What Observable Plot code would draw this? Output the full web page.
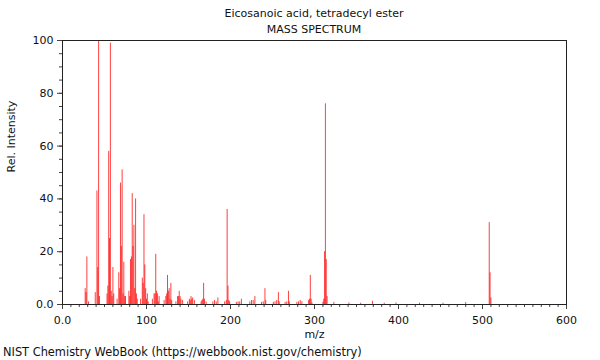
<!DOCTYPE html>
<html>
<head>
<meta charset="utf-8">
<script src="https://cdn.jsdelivr.net/npm/d3@7"></script>
<script src="https://cdn.jsdelivr.net/npm/@observablehq/plot@0.6"></script>
<style>
  body { margin: 0; background: #fff; font-family: "DejaVu Sans", sans-serif; }
  #wrap { position: relative; width: 600px; height: 360px; }
  .t { position: absolute; font-size: 11px; color: #111; white-space: nowrap; }
  #title { left: 314px; top: 7px; transform: translateX(-50%); }
  #sub { left: 314px; top: 23px; transform: translateX(-50%); }
  #cap { left: 3px; top: 345px; font-size: 11.4px; }
</style>
</head>
<body>
<div id="wrap">
  <div id="chart"></div>
  <div class="t" id="title">Eicosanoic acid, tetradecyl ester</div>
  <div class="t" id="sub">MASS SPECTRUM</div>
  <div class="t" id="cap">NIST Chemistry WebBook (https://webbook.nist.gov/chemistry)</div>
</div>
<script>
const mz = [27,28,29,31,39,41,42,43,44,53,54,55,56,57,58,59,60,61,65,67,68,69,70,71,72,73,74,75,79,80,81,82,83,84,85,86,87,88,89,93,95,96,97,98,99,100,101,102,107,109,110,111,112,113,114,115,121,123,124,125,126,127,128,129,130,135,137,138,139,140,141,143,149,151,152,153,154,155,157,165,166,167,168,169,171,179,181,183,185,193,195,196,197,198,199,207,209,211,213,223,225,227,229,237,239,241,242,251,253,255,257,258,265,267,269,270,279,281,283,285,293,294,295,296,297,310,311,312,313,314,315,323,341,355,369,383,397,425,453,480,508,509,510];
const intensity = [6,4.5,18,1,4.5,43,14,100,3,4,7,58,25,99,5,3,14,4,2,12,6,46,22,51,4,16,3,3,5,3,17,18,42,22,30,6,40,4,2,2,10,8,34,15,6,2,4,1,2,4,4,19,5,4,1,3,1.5,3,4,11,5,6,2,8,1.5,1,3,3,5,3,2,1.5,1,2,1.5,3,2,2.5,1.5,1,1.5,2,8,2,1,1,1.5,1,2.5,1,1.5,36,7,1.5,1,0.8,1,1,2,1,1.5,1.5,3,0.8,1,6,1.5,0.8,1,1.5,4.5,1,0.8,1,5,1,0.8,1,1.5,1,1.5,2,11,2,0.6,0.8,2,20,76,17,3,0.8,0.6,0.5,1.2,0.5,0.6,0.5,0.5,0.7,31,12,2.5];
const xMajor = [0,100,200,300,400,500,600];
const xMajorLabels = ["0.0","100","200","300","400","500","600"];
const yMajor = [0,20,40,60,80,100];
const yMajorLabels = ["0.0","20","40","60","80","100"];

const data = mz.map((m, i) => ({mz: m, intensity: intensity[i]}));

const chart = Plot.plot({
  width: 600,
  height: 360,
  marginLeft: 62,
  marginRight: 34,
  marginTop: 40,
  marginBottom: 56,
  style: {fontFamily: "DejaVu Sans, sans-serif", fontSize: "11px", color: "#111", background: "transparent"},
  x: {domain: [0, 600]},
  y: {domain: [0, 100]},
  marks: [
    Plot.ruleX(data, {x: "mz", y: "intensity", stroke: "red", strokeOpacity: 0.75, strokeWidth: 1}),
    Plot.axisX({ticks: d3.range(0, 601, 10), tickSize: 3, tickFormat: () => "", label: null, stroke: "#444"}),
    Plot.axisX({ticks: xMajor, tickSize: 5, tickPadding: 7, tickFormat: (d, i) => xMajorLabels[i], label: null, stroke: "#444"}),
    Plot.axisY({ticks: d3.range(0, 101, 5), tickSize: 3, tickFormat: () => "", label: null, stroke: "#444"}),
    Plot.axisY({ticks: yMajor, tickSize: 5, tickPadding: 4, tickFormat: (d, i) => yMajorLabels[i], label: null, stroke: "#444"}),
    Plot.frame({stroke: "#222"}),
    Plot.text(["m/z"], {frameAnchor: "bottom", dy: 33, text: d => d}),
    Plot.text(["Rel. Intensity"], {frameAnchor: "left", dx: -51, rotate: -90, text: d => d})
  ]
});
document.getElementById("chart").appendChild(chart);
</script>
</body>
</html>
